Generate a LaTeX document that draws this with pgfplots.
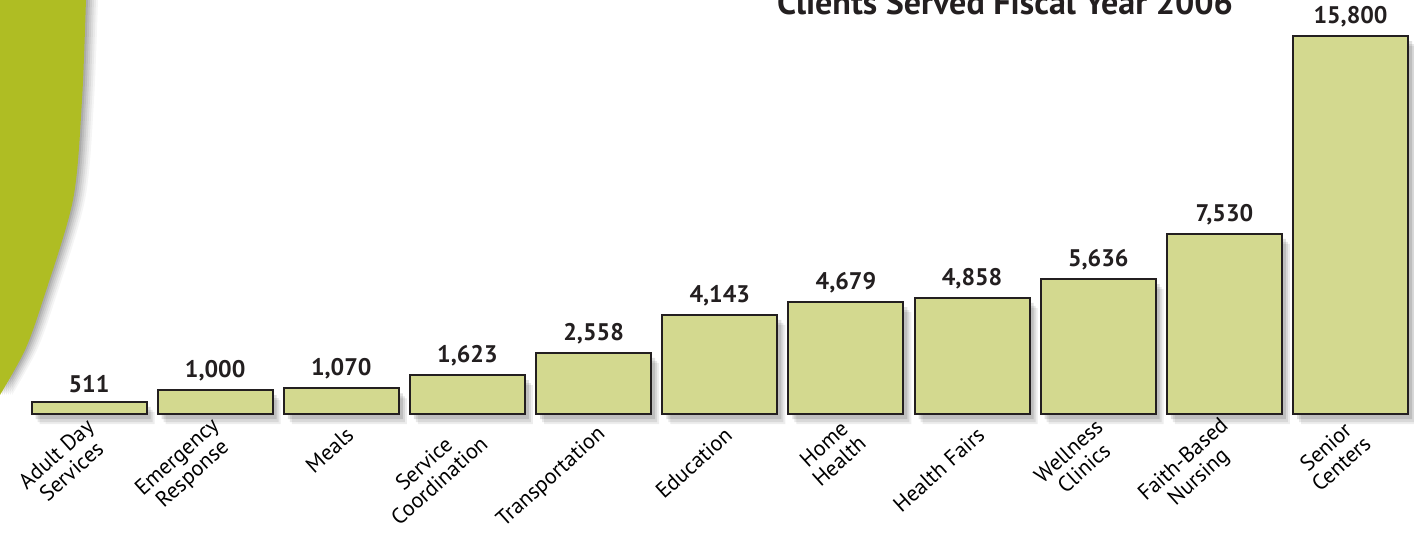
\documentclass[border=0pt]{standalone}
\usepackage{fontspec}
\setmainfont{PT Sans}
\usepackage{pgfplots}
\pgfplotsset{compat=1.18}
\definecolor{barfill}{RGB}{211,217,143}
\definecolor{barline}{RGB}{35,31,32}
\definecolor{swoosh}{RGB}{175,189,35}
\pgfplotstableread{
x y
0 511
1 1000
2 1070
3 1623
4 2558
5 4143
6 4679
7 4858
8 5636
9 7530
10 15800
}\datatable
\begin{document}
\begin{tikzpicture}[x=1pt,y=1pt]
% decorative swoosh with soft shadow
\foreach \s/\o in {6/0.04,5/0.05,4/0.06,3/0.07,2/0.08,1/0.09}{
  \fill[black,opacity=\o,xshift=\s pt] plot[smooth] coordinates {(43,271) (41,220.5) (36.5,170.5) (21.5,120.5) (12.5,95.5) (0,73)} -- (0,271) -- cycle;
}
\fill[swoosh] plot[smooth] coordinates {(43,271) (41,220.5) (36.5,170.5) (21.5,120.5) (12.5,95.5) (0,73)} -- (0,271) -- cycle;
\begin{axis}[
  at={(0,0)}, anchor=south west,
  scale only axis, width=707pt, height=270.5pt,
  xmin=-0.7055, xmax=10.503, ymin=-5308, ymax=17305,
  axis line style={draw=none},
  major tick length=0pt,
  ytick=\empty,
  xtick=data,
  xticklabels={{Adult Day\\Services},{Emergency\\Response},Meals,{Service\\Coordination},Transportation,Education,{Home\\Health},Health Fairs,{Wellness\\Clinics},{Faith-Based\\Nursing},{Senior\\Centers}},
  xticklabel shift=-57pt,
  xticklabel style={font=\fontsize{11}{11.5}\selectfont, align=center, xshift=7pt, rotate=42, anchor=east},
  clip=false,
  ybar, bar width=57.5pt,
  /pgf/number format/assume math mode=true,
  /pgf/number format/1000 sep={,},
]
\addplot[ybar, bar shift=0pt, fill=black, opacity=0.07, draw=none, xshift=4pt, yshift=-5pt] table[x=x,y=y] {\datatable};
\addplot[ybar, bar shift=0pt, fill=black, opacity=0.09, draw=none, xshift=3pt, yshift=-4pt] table[x=x,y=y] {\datatable};
\addplot[ybar, bar shift=0pt, fill=black, opacity=0.12, draw=none, xshift=2pt, yshift=-2.5pt] table[x=x,y=y] {\datatable};
\addplot[ybar, bar shift=0pt, fill=barfill, draw=barline, line width=1pt,
  nodes near coords,
  every node near coord/.append style={font=\fontsize{12}{13}\bfseries, anchor=south, inner sep=0pt, yshift=4pt, color=barline}
] table[x=x,y=y] {\datatable};
\end{axis}
\node[anchor=base, inner sep=0pt, font=\fontsize{15}{17}\bfseries, text=barline] at (502.5,263) {\resizebox{228pt}{!}{Clients Served Fiscal Year 2006}};
\pgfresetboundingbox
\path[use as bounding box] (0,0) rectangle (707,270.5);
\end{tikzpicture}
\end{document}
